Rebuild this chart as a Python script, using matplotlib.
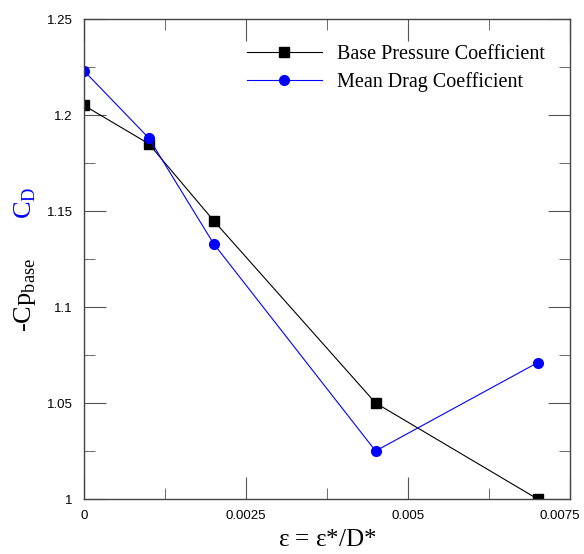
import matplotlib.pyplot as plt
import matplotlib.transforms as mtransforms
from matplotlib.ticker import MultipleLocator

eps = [0.0, 0.001, 0.002, 0.0045, 0.007]
cp_base = [1.205, 1.185, 1.145, 1.050, 1.000]
cd_mean = [1.223, 1.188, 1.133, 1.025, 1.071]
xticks = [0, 0.0025, 0.005, 0.0075]
xtick_labels = ["0", "0.0025", "0.005", "0.0075"]
yticks = [1, 1.05, 1.1, 1.15, 1.2, 1.25]
ytick_labels = ["1", "1.05", "1.1", "1.15", "1.2", "1.25"]

serif = "Liberation Serif"
sans = "Liberation Sans"

fig = plt.figure(figsize=(5.84, 5.54), dpi=100)
ax = fig.add_axes([84 / 584, 1 - 499 / 554, 486 / 584, 480 / 554])

ax.plot(eps, cp_base, color="black", lw=0.8, marker="s", ms=7, label="Base Pressure Coefficient")
ax.plot(eps, cd_mean, color="blue", lw=0.8, marker="o", ms=7, label="Mean Drag Coefficient")

ax.set_xlim(0, 0.0075)
ax.set_ylim(1, 1.25)
ax.set_xticks(xticks)
ax.set_xticklabels(xtick_labels, fontfamily=sans, fontsize=9.5)
ax.set_yticks(yticks)
ax.set_yticklabels(ytick_labels, fontfamily=sans, fontsize=9.5)
ax.xaxis.set_minor_locator(MultipleLocator(0.00125))
ax.yaxis.set_minor_locator(MultipleLocator(0.025))
ax.tick_params(which="both", direction="in", top=True, right=True, color="#555555")
ax.tick_params(which="major", length=16, pad=8)
ax.tick_params(which="minor", length=8)
for s in ax.spines.values():
    s.set_color("#444444")
    s.set_linewidth(1.0)

# last x label sits a little left so it stays inside the figure
last = ax.get_xticklabels()[-1]
last.set_transform(last.get_transform() + mtransforms.ScaledTranslation(-10 / 100, 0, fig.dpi_scale_trans))

ax.set_xlabel(r"$\mathregular{\varepsilon}$ = $\mathregular{\varepsilon}$*/D*", fontfamily=serif,
              fontsize=18, labelpad=5)

fig.text(25 / 584, 1 - 295 / 554, r"-Cp$_{\mathregular{base}}$", rotation=90, fontfamily=serif,
         fontsize=19, ha="center", va="center", color="black")
fig.text(25 / 584, 1 - 203 / 554, r"C$_{\mathregular{D}}$", rotation=90, fontfamily=serif,
         fontsize=19, ha="center", va="center", color="blue")

ax.legend(loc="upper left", bbox_to_anchor=((247 - 84) / 486, 1 - (45 - 19) / 480), frameon=False,
          prop={"family": serif, "size": 14.5}, handlelength=3.7, handletextpad=0.75,
          labelspacing=0.4, borderpad=0, borderaxespad=0)

fig.savefig("out.png", dpi=100)
